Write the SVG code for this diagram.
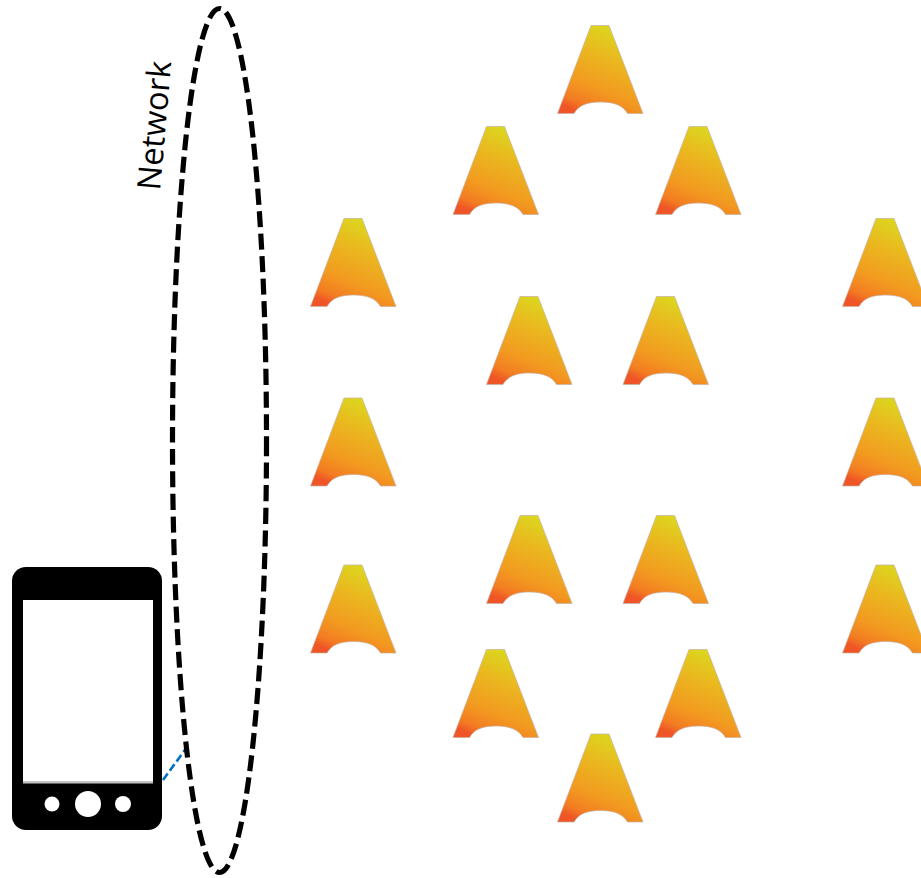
<svg xmlns="http://www.w3.org/2000/svg" width="921" height="878" viewBox="0 0 921 878">
<style>
.ring{fill:none;stroke:#000;stroke-width:5.2;stroke-dasharray:16 6.500}
.link{fill:none;stroke:#0070c0;stroke-width:2.6;stroke-dasharray:8 3.500}
.label{font-family:"Open Sans",sans-serif;font-size:32.500px;fill:#000}
</style>
<defs>
<linearGradient id="g" x1="0.7" y1="0" x2="0.3" y2="1">
<stop offset="0" stop-color="#d9dc1e"/>
<stop offset="0.35" stop-color="#eab81f"/>
<stop offset="0.7" stop-color="#f29a20"/>
<stop offset="0.9" stop-color="#f37c22"/>
<stop offset="1" stop-color="#ef5526"/>
</linearGradient>
<symbol id="cone" width="87" height="89" overflow="visible">
<path d="M34 0.500H52L86 88.500H70.500C66 80.500 57 77 43.500 77C30 77 21.500 80.500 17 88.500H0.500Z" fill="url(#g)" stroke="#c4b0a4" stroke-width="0.7"/>
</symbol>
</defs>
<g id="connectors">
<line class="link" x1="163" y1="780" x2="187" y2="747"/>
</g>
<g id="network">
<ellipse class="ring" cx="219.500" cy="440.500" rx="47" ry="432"/>
<text class="label" transform="translate(160 191) rotate(-85)">Network</text>
</g>
<g id="phone">
<rect x="12" y="567" width="150" height="263" rx="14" fill="#000"/>
<rect x="23" y="600" width="130" height="183" fill="#fff"/>
<rect x="23" y="781" width="130" height="2.500" fill="#c4c4c4"/>
<circle cx="52" cy="804" r="7.500" fill="#fff"/>
<circle cx="88" cy="804" r="13" fill="#fff"/>
<circle cx="123" cy="804" r="8" fill="#fff"/>
</g>
<g id="n1"><use href="#cone" x="557" y="25"/></g>
<g id="n2"><use href="#cone" x="452.500" y="126"/></g>
<g id="n3"><use href="#cone" x="655" y="126"/></g>
<g id="n4"><use href="#cone" x="310" y="218"/></g>
<g id="n5"><use href="#cone" x="486" y="296"/></g>
<g id="n6"><use href="#cone" x="622.500" y="296"/></g>
<g id="n7"><use href="#cone" x="842" y="218"/></g>
<g id="n8"><use href="#cone" x="310" y="397.500"/></g>
<g id="n9"><use href="#cone" x="842" y="397.500"/></g>
<g id="n10"><use href="#cone" x="486" y="515"/></g>
<g id="n11"><use href="#cone" x="622.500" y="515"/></g>
<g id="n12"><use href="#cone" x="310" y="564.500"/></g>
<g id="n13"><use href="#cone" x="842" y="564.500"/></g>
<g id="n14"><use href="#cone" x="452.500" y="649"/></g>
<g id="n15"><use href="#cone" x="655" y="649"/></g>
<g id="n16"><use href="#cone" x="557" y="733.500"/></g>
</svg>
